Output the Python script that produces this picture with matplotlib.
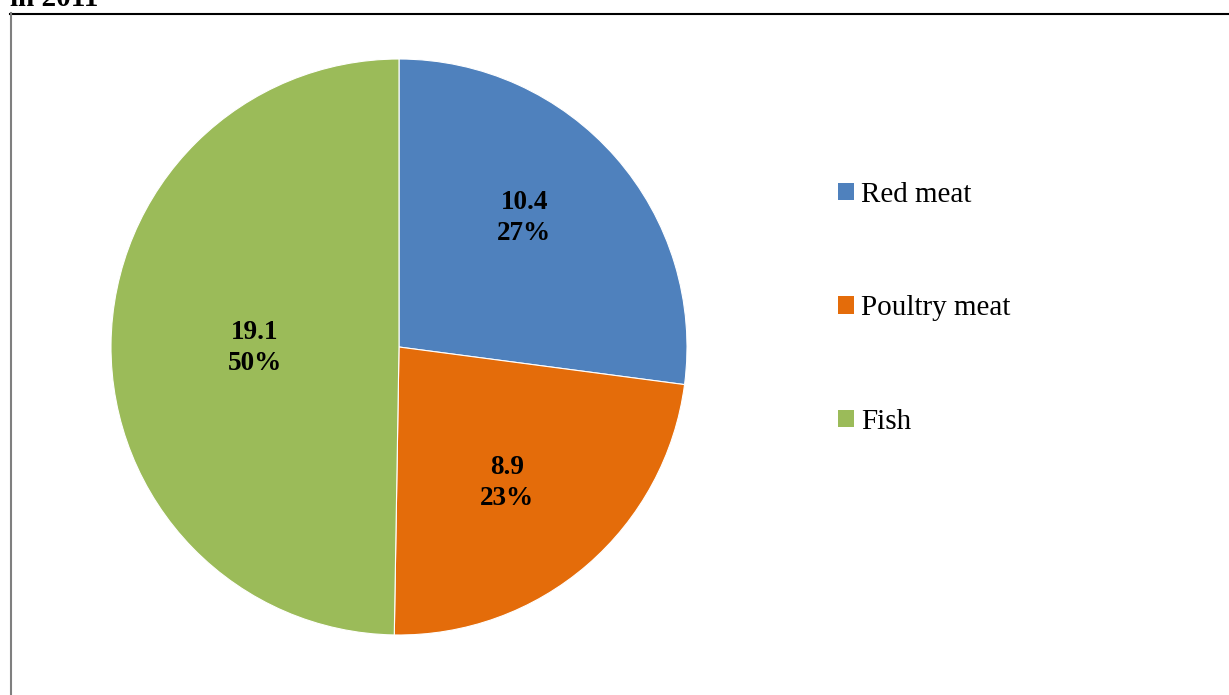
import matplotlib
matplotlib.use("Agg")
import matplotlib.pyplot as plt
from matplotlib.lines import Line2D
import numpy as np

categories = ["Red meat", "Poultry meat", "Fish"]
values = [10.4, 8.9, 19.1]
percent_labels = ["27%", "23%", "50%"]
colors = ["#4F81BD", "#E46C0A", "#9BBB59"]
title_text = "in 2011"

plt.rcParams['font.family'] = ['Liberation Serif', 'DejaVu Serif']

W, H = 1229, 695
fig = plt.figure(figsize=(W / 100, H / 100), dpi=100)

def fx(x): return x / W
def fy(y): return 1 - y / H

fig.add_artist(Line2D([fx(10), fx(1229)], [fy(13.5), fy(13.5)], color="black", lw=1.5))
fig.add_artist(Line2D([fx(10.5), fx(10.5)], [fy(13), fy(695)], color="#7f7f7f", lw=1.5))

fig.text(fx(10), fy(6), title_text, fontsize=21, fontweight="bold", va="baseline", ha="left")

cx, cy, r = 399, 347, 288
ax = fig.add_axes([fx(cx - r), fy(cy + r), 2 * r / W, 2 * r / H])
wedges, _ = ax.pie(values, colors=colors, startangle=90, counterclock=False,
                   wedgeprops=dict(linewidth=0.8, edgecolor="white"))
ax.set_xlim(-1, 1)
ax.set_ylim(-1, 1)
ax.set_aspect("equal")

dists = [0.624, 0.603, 0.5]
ang_shift = [4.6, -2.3, 0.8]
for w, v, p, d, s in zip(wedges, values, percent_labels, dists, ang_shift):
    ang = np.deg2rad((w.theta1 + w.theta2) / 2 + s)
    ax.text(d * np.cos(ang), d * np.sin(ang), f"{v}\n{p}", ha="center", va="center",
            fontsize=19.5, fontweight="bold", linespacing=1.3)

leg = fig.legend(wedges, categories, loc="upper left",
                 bbox_to_anchor=(fx(826), fy(170)), frameon=False,
                 fontsize=21, handlelength=0.55, handleheight=0.55,
                 handletextpad=0.25, labelspacing=3.0, borderaxespad=0)
for h in leg.legend_handles:
    h.set_edgecolor("none")

fig.savefig("out.png", dpi=100)
